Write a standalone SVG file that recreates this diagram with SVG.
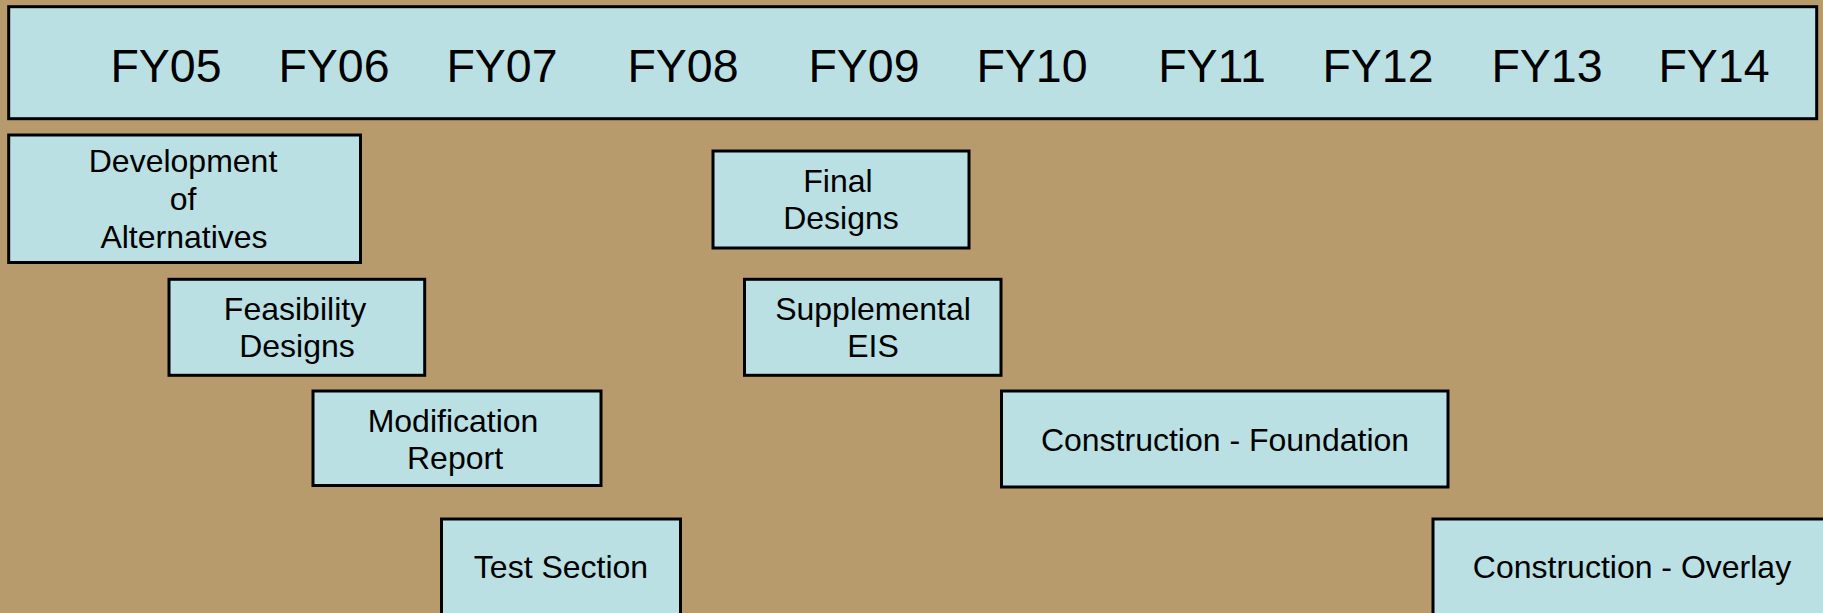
<svg xmlns="http://www.w3.org/2000/svg" width="1823" height="613" viewBox="0 0 1823 613">
<style>
.box{fill:#BAE0E3;stroke:#000;stroke-width:3}
.t{font-family:"Liberation Sans",Arial,sans-serif;font-size:32px;fill:#000;text-anchor:middle}
.fy{font-family:"Liberation Sans",Arial,sans-serif;font-size:46.5px;fill:#000;text-anchor:middle}
</style>
<rect x="0" y="0" width="1823" height="613" fill="#B89B6C"/>
<g id="header">
<rect class="box" x="8.7" y="6.7" width="1808" height="112"/>
<text class="fy" x="166" y="82">FY05</text>
<text class="fy" x="334" y="82">FY06</text>
<text class="fy" x="502" y="82">FY07</text>
<text class="fy" x="683" y="82">FY08</text>
<text class="fy" x="864" y="82">FY09</text>
<text class="fy" x="1032" y="82">FY10</text>
<text class="fy" x="1212" y="82">FY11</text>
<text class="fy" x="1378" y="82">FY12</text>
<text class="fy" x="1547" y="82">FY13</text>
<text class="fy" x="1714" y="82">FY14</text>
</g>
<g id="dev-alternatives">
<rect class="box" x="8.7" y="135" width="351.8" height="127.5"/>
<text class="t" x="183" y="172">Development</text>
<text class="t" x="183" y="210">of</text>
<text class="t" x="184" y="248">Alternatives</text>
</g>
<g id="feasibility-designs">
<rect class="box" x="169" y="279.3" width="255.7" height="96"/>
<text class="t" x="295" y="320">Feasibility</text>
<text class="t" x="297" y="357">Designs</text>
</g>
<g id="modification-report">
<rect class="box" x="313" y="391" width="288" height="94.5"/>
<text class="t" x="453" y="432">Modification</text>
<text class="t" x="455" y="469">Report</text>
</g>
<g id="test-section">
<rect class="box" x="441.5" y="519" width="239" height="120"/>
<text class="t" x="561" y="578">Test Section</text>
</g>
<g id="final-designs">
<rect class="box" x="713" y="151" width="256" height="97"/>
<text class="t" x="838" y="192">Final</text>
<text class="t" x="841" y="229">Designs</text>
</g>
<g id="supplemental-eis">
<rect class="box" x="744.5" y="279.3" width="256.5" height="96"/>
<text class="t" x="873" y="320">Supplemental</text>
<text class="t" x="873" y="357">EIS</text>
</g>
<g id="construction-foundation">
<rect class="box" x="1001.5" y="391" width="446.5" height="96"/>
<text class="t" x="1225" y="451">Construction - Foundation</text>
</g>
<g id="construction-overlay">
<rect class="box" x="1433" y="519" width="420" height="120"/>
<text class="t" x="1632" y="578">Construction - Overlay</text>
</g>
<g id="connectors"></g>
</svg>
